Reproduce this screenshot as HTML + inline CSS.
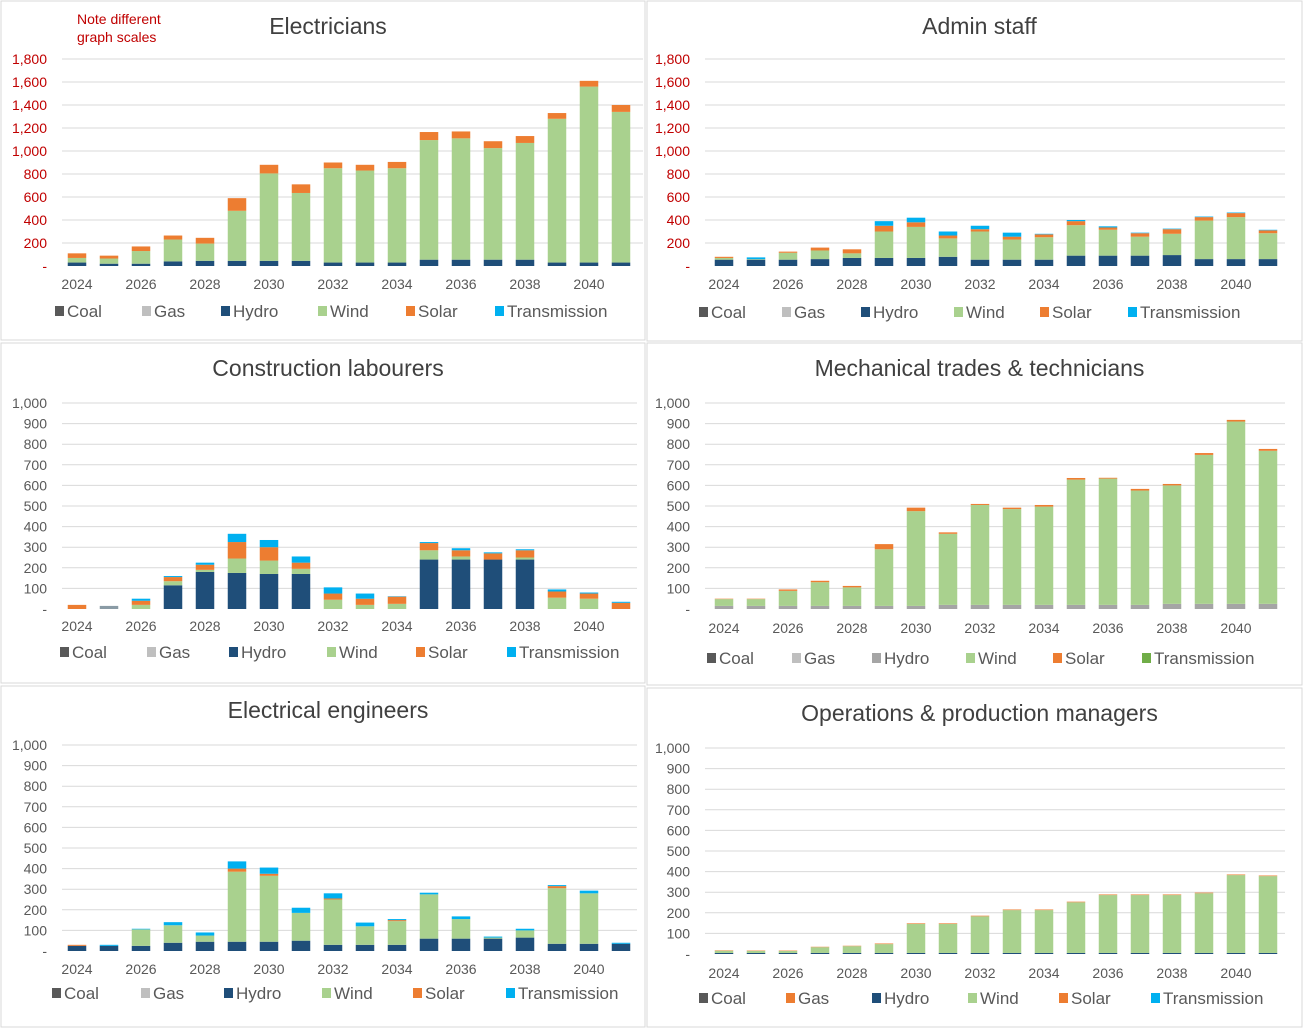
<!DOCTYPE html>
<html><head><meta charset="utf-8"><style>
body{margin:0;background:#fff;}
svg{display:block;font-family:"Liberation Sans",Arial,sans-serif;}
</style></head><body>
<svg id="c" width="1303" height="1029" viewBox="0 0 1303 1029"></svg>
<script>
const years=[2024,2025,2026,2027,2028,2029,2030,2031,2032,2033,2034,2035,2036,2037,2038,2039,2040,2041];
const seriesNames=["Coal","Gas","Hydro","Wind","Solar","Transmission"];
// Electricians
const elecHydro=[30,20,20,40,45,45,45,45,30,30,30,55,55,55,55,30,30,30];
const elecWind=[40,45,110,190,150,435,760,590,820,800,820,1040,1055,970,1015,1250,1530,1310];
const elecSolar=[40,25,40,35,50,110,75,75,50,50,55,70,60,60,60,50,50,60];
const elecTrans=[0,0,0,0,0,0,0,0,0,0,0,0,0,0,0,0,0,0];
// Admin staff
const admHydro=[55,55,55,60,70,70,70,80,55,55,55,90,90,90,95,60,60,60];
const admWind=[15,5,60,75,40,230,270,160,245,175,195,265,225,165,185,335,365,225];
const admSolar=[10,0,10,25,35,50,40,25,20,25,25,35,20,30,40,30,35,25];
const admTrans=[0,15,0,0,0,40,40,35,30,35,5,10,10,5,5,5,5,5];
// Construction labourers
const conGas=[0,15,0,0,0,0,0,0,0,0,0,0,0,0,0,0,0,0];
const conHydro=[0,0,0,115,180,175,170,170,0,0,0,240,240,240,240,0,0,0];
const conWind=[0,0,20,20,10,70,65,25,45,20,25,45,15,0,10,55,50,0];
const conSolar=[20,0,20,20,25,80,65,30,30,30,35,35,30,30,35,30,25,30];
const conTrans=[0,0,10,5,10,40,35,30,30,25,2,5,10,5,5,10,5,5];
// Mechanical trades
const mecHydro=[15,15,15,15,15,15,15,20,20,20,20,20,20,20,25,25,25,25];
const mecWind=[33,33,73,115,90,275,460,345,485,465,477,608,613,555,575,723,885,743];
const mecSolar=[2,2,7,7,7,25,17,7,5,7,8,8,4,8,7,9,8,9];
const mecTrans=[0,0,0,0,0,0,0,0,0,0,0,0,0,0,0,0,0,0];
// Electrical engineers
const engHydro=[25,25,25,40,45,45,45,50,30,30,30,60,60,60,65,35,35,35];
const engWind=[0,0,80,85,30,340,320,135,220,90,115,215,95,5,35,270,245,0];
const engSolar=[5,0,0,0,0,15,10,0,5,0,5,0,0,0,0,10,0,0];
const engTrans=[0,5,3,15,15,35,30,25,25,18,5,8,13,5,8,5,13,5];
// Operations & production managers
const opsHydro=[5,5,5,5,5,5,5,5,5,5,5,5,5,5,5,5,5,5];
const opsWind=[11,10,10,28,33,43,141,141,178,208,208,246,281,281,281,290,378,373];
const opsSolar=[2,2,2,2,2,3,3,3,3,3,3,3,3,3,3,3,3,3];
const opsTrans=[0,0,0,0,0,0,0,0,0,0,0,0,0,0,0,0,0,0];
const ticksBig=[0,200,400,600,800,1000,1200,1400,1600,1800];
const ticksSmall=[0,100,200,300,400,500,600,700,800,900,1000];
const xLabels=["2024","2026","2028","2030","2032","2034","2036","2038","2040"];

const NS="http://www.w3.org/2000/svg";
const svg=document.getElementById('c');
function mk(tag,attrs,parent){const e=document.createElementNS(NS,tag);for(const k in attrs)e.setAttribute(k,attrs[k]);(parent||svg).appendChild(e);return e;}

const C={coal:"#595959",gas:"#bfbfbf",hydro:"#1f4e79",wind:"#a9d18e",solar:"#ed7d31",trans:"#00b0f0"};
const panels=[
 {id:"electricians",title:"Electricians",box:[1,1,644,339],titleY:34,ymax:1800,ticks:ticksBig,y0:266,yTop:59,gx0:62,gx1:643,bx0:77,tickCol:"#c00000",xlY:289,legY:315,legX:[59,146,225,322,410,499],
  stack:[["hydro",elecHydro,C.hydro],["wind",elecWind,C.wind],["solar",elecSolar,C.solar],["trans",elecTrans,C.trans]],leg:[C.coal,C.gas,C.hydro,C.wind,C.solar,C.trans]},
 {id:"admin-staff",title:"Admin staff",box:[647,1,655,340],titleY:34,ymax:1800,ticks:ticksBig,y0:266,yTop:59,gx0:705,gx1:1285,bx0:724,tickCol:"#c00000",xlY:289,legY:316,legX:[703,786,865,958,1044,1132],
  stack:[["hydro",admHydro,C.hydro],["wind",admWind,C.wind],["solar",admSolar,C.solar],["trans",admTrans,C.trans]],leg:[C.coal,C.gas,C.hydro,C.wind,C.solar,C.trans]},
 {id:"construction-labourers",title:"Construction labourers",box:[1,343,644,340],titleY:376,ymax:1000,ticks:ticksSmall,y0:609,yTop:403,gx0:62,gx1:637,bx0:77,tickCol:"#595959",xlY:631,legY:656,legX:[64,151,233,331,420,511],
  stack:[["gas",conGas,"#8a9ba5"],["hydro",conHydro,C.hydro],["wind",conWind,C.wind],["solar",conSolar,C.solar],["trans",conTrans,C.trans]],leg:[C.coal,C.gas,C.hydro,C.wind,C.solar,C.trans]},
 {id:"mechanical-trades",title:"Mechanical trades & technicians",box:[647,343,655,342],titleY:376,ymax:1000,ticks:ticksSmall,y0:609,yTop:403,gx0:705,gx1:1285,bx0:724,tickCol:"#595959",xlY:633,legY:662,legX:[711,796,876,970,1057,1146],
  stack:[["hydro",mecHydro,"#a5a5a5"],["wind",mecWind,C.wind],["solar",mecSolar,C.solar],["trans",mecTrans,"#70ad47"]],leg:[C.coal,C.gas,"#a5a5a5",C.wind,C.solar,"#70ad47"]},
 {id:"electrical-engineers",title:"Electrical engineers",box:[1,686,644,341],titleY:718,ymax:1000,ticks:ticksSmall,y0:951,yTop:745,gx0:62,gx1:637,bx0:77,tickCol:"#595959",xlY:974,legY:997,legX:[56,145,228,326,417,510],
  stack:[["hydro",engHydro,C.hydro],["wind",engWind,C.wind],["solar",engSolar,C.solar],["trans",engTrans,C.trans]],leg:[C.coal,C.gas,C.hydro,C.wind,C.solar,C.trans]},
 {id:"operations-managers",title:"Operations & production managers",box:[647,688,655,339],titleY:721,ymax:1000,ticks:ticksSmall,y0:954,yTop:748,gx0:705,gx1:1285,bx0:724,tickCol:"#595959",xlY:978,legY:1002,legX:[703,790,876,972,1063,1155],
  stack:[["hydro",opsHydro,C.hydro],["wind",opsWind,C.wind],["solar",opsSolar,C.solar],["trans",opsTrans,C.trans]],leg:[C.coal,C.solar,C.hydro,C.wind,C.solar,C.trans]}
];

panels.forEach(p=>{
  const g=mk('g',{});
  
  
  const b=p.box;
  const r=mk('rect',{x:b[0],y:b[1],width:b[2],height:b[3],fill:"#fff",stroke:"#d9d9d9","stroke-width":1},g);
  
  
  const cx=b[0]+b[2]/2+5;
  const t=mk('text',{x:cx,y:p.titleY,"text-anchor":"middle","font-size":23,fill:"#404040"},g);
  t.textContent=p.title;
  
  
  const ys=v=>p.y0-(v/p.ymax)*(p.y0-p.yTop);
  p.ticks.forEach(v=>{
    const y=ys(v);
    if(v>0){const l=mk('line',{x1:p.gx0,x2:p.gx1,y1:y,y2:y,stroke:"#d9d9d9","stroke-width":1},g);
      
      }
    const tl=mk('text',{x:p.gx0-15,y:y+5,"text-anchor":"end","font-size":14,fill:p.tickCol},g);
    tl.textContent=v===0?"-":v.toLocaleString('en-US');
    
    
  });
  const bw=18.5,step=32;
  years.forEach((yr,i)=>{
    const x=p.bx0+i*step;
    let acc=0;
    p.stack.forEach(s=>{
      const v=s[1][i]; if(!v) return;
      const yTop=ys(acc+v),yBot=ys(acc);
      const rr=mk('rect',{x:x-bw/2,y:yTop,width:bw,height:Math.max(0,yBot-yTop),fill:s[2]},g);
      
      
      acc+=v;
    });
  });
  xLabels.forEach(lab=>{
    const i=years.indexOf(+lab);
    const xl=mk('text',{x:p.bx0+i*step,y:p.xlY,"text-anchor":"middle","font-size":14,fill:"#595959"},g);
    xl.textContent=lab;
    
    
  });
  seriesNames.forEach((n,k)=>{
    const lx=p.legX[k];
    const sq=mk('rect',{x:lx-4,y:p.legY-9,width:9,height:10,fill:p.leg[k]},g);
    
    
    const lt=mk('text',{x:lx+8,y:p.legY+2,"font-size":17,fill:"#595959"},g);
    lt.textContent=n;
    
    
  });
});
const n1=mk('text',{x:77,y:24,"font-size":14,fill:"#c00000"});
n1.textContent="Note different";


const n2=mk('text',{x:77,y:42,"font-size":14,fill:"#c00000"});
n2.textContent="graph scales";


</script>
</body></html>
